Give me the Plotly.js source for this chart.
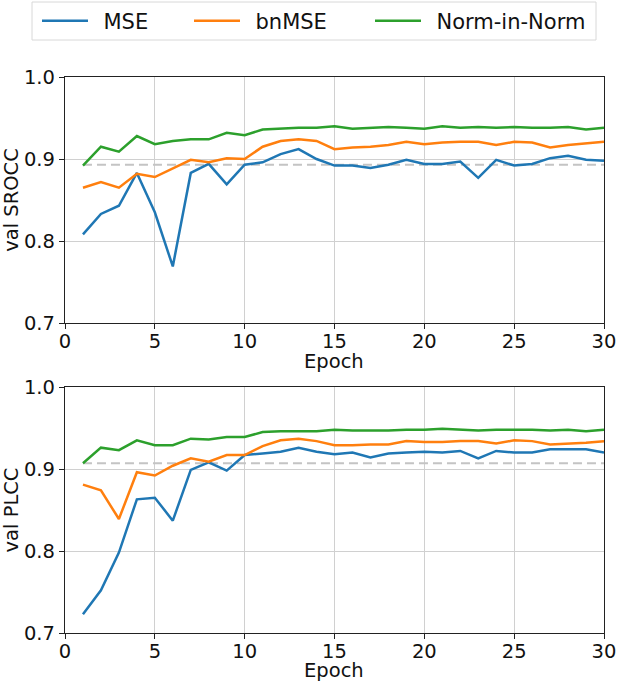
<!DOCTYPE html>
<html>
<head>
<meta charset="utf-8">
<script src="https://cdn.plot.ly/plotly-3.0.1.min.js"></script>
<style>
  html, body { margin: 0; padding: 0; background: #fff; }
  #chart { width: 623px; height: 687px; }
</style>
</head>
<body>
<div id="chart"></div>
<script>
const epochs = [1,2,3,4,5,6,7,8,9,10,11,12,13,14,15,16,17,18,19,20,21,22,23,24,25,26,27,28,29,30];
const seriesNames = ['MSE', 'bnMSE', 'Norm-in-Norm'];

// val SROCC per epoch
const srccMSE = [0.808,0.833,0.843,0.883,0.835,0.769,0.883,0.894,0.869,0.893,0.896,0.906,0.912,0.900,0.892,
                 0.892,0.889,0.893,0.899,0.894,0.894,0.897,0.877,0.899,0.892,0.894,0.901,0.904,0.899,0.898];
const srccBn  = [0.865,0.872,0.865,0.882,0.878,0.888,0.899,0.896,0.901,0.900,0.915,0.922,0.924,0.922,0.912,
                 0.914,0.915,0.917,0.921,0.918,0.920,0.921,0.921,0.917,0.921,0.920,0.914,0.917,0.919,0.921];
const srccNiN = [0.892,0.915,0.909,0.928,0.918,0.922,0.924,0.924,0.932,0.929,0.936,0.937,0.938,0.938,0.940,
                 0.937,0.938,0.939,0.938,0.937,0.940,0.938,0.939,0.938,0.939,0.938,0.938,0.939,0.936,0.938];

// val PLCC per epoch
const plccMSE = [0.723,0.752,0.798,0.863,0.865,0.837,0.899,0.908,0.898,0.917,0.919,0.921,0.926,0.921,0.918,
                 0.920,0.914,0.919,0.920,0.921,0.920,0.922,0.913,0.922,0.920,0.920,0.924,0.924,0.924,0.920];
const plccBn  = [0.881,0.874,0.839,0.896,0.892,0.904,0.913,0.909,0.917,0.917,0.928,0.935,0.937,0.934,0.929,
                 0.929,0.930,0.930,0.934,0.933,0.933,0.934,0.934,0.931,0.935,0.934,0.930,0.931,0.932,0.934];
const plccNiN = [0.907,0.926,0.923,0.935,0.929,0.929,0.937,0.936,0.939,0.939,0.945,0.946,0.946,0.946,0.948,
                 0.947,0.947,0.947,0.948,0.948,0.949,0.948,0.947,0.948,0.948,0.948,0.947,0.948,0.946,0.948];

// dashed reference lines
const baseX = [1, 30];
const srccBase = [0.893, 0.893];
const plccBase = [0.907, 0.907];

const colors = ['#1f77b4', '#ff7f0e', '#2ca02c'];
const FONT = 'DejaVu Sans, sans-serif';
const W = 623, H = 687;

const px = v => v / W;
const py = v => 1 - v / H;

function line(y, i, xa, ya, leg) {
  return {
    x: epochs, y: y, type: 'scatter', mode: 'lines',
    // en space keeps the matplotlib-like gap between sample line and label
    name: '\u2002' + seriesNames[i], xaxis: xa, yaxis: ya,
    line: { color: colors[i], width: 2.5 },
    showlegend: !!leg, legend: leg || 'legend',
  };
}
function dashed(y, xa, ya) {
  return {
    x: baseX, y: y, type: 'scatter', mode: 'lines', xaxis: xa, yaxis: ya,
    line: { color: '#c4c4c4', width: 2.2, dash: '9px,5px' },
    showlegend: false, hoverinfo: 'skip',
  };
}

const traces = [
  dashed(srccBase, 'x', 'y'),
  line(srccMSE, 0, 'x', 'y', 'legend'),
  line(srccBn, 1, 'x', 'y', 'legend2'),
  line(srccNiN, 2, 'x', 'y', 'legend3'),
  dashed(plccBase, 'x2', 'y2'),
  line(plccMSE, 0, 'x2', 'y2'),
  line(plccBn, 1, 'x2', 'y2'),
  line(plccNiN, 2, 'x2', 'y2'),
];

function xAxis(anchor) {
  return {
    anchor: anchor, domain: [px(65), px(604)], range: [0, 30],
    tickvals: [0, 5, 10, 15, 20, 25, 30],
    showgrid: true, gridcolor: '#d0d0d0', gridwidth: 1,
    zeroline: false, showline: true, linecolor: '#222', linewidth: 1.2, mirror: true,
    ticks: 'outside', ticklen: 5, tickcolor: '#222', ticklabelstandoff: -5,
    tickfont: { family: FONT, size: 19.5, color: '#111' },
  };
}
function yAxis(anchor, top, bottom, label) {
  return {
    anchor: anchor, domain: [py(bottom), py(top)], range: [0.7, 1.0],
    tickvals: [0.7, 0.8, 0.9, 1.0], tickformat: '.1f',
    showgrid: true, gridcolor: '#d0d0d0', gridwidth: 1,
    zeroline: false, showline: true, linecolor: '#222', linewidth: 1.2, mirror: true,
    ticks: 'outside', ticklen: 5, tickcolor: '#222',
    tickfont: { family: FONT, size: 19.5, color: '#111' },
    title: { text: label, font: { family: FONT, size: 19.5, color: '#111' }, standoff: 6 },
  };
}

function legendAt(x) {
  return {
    x: px(x), xanchor: 'left', y: py(21), yanchor: 'middle',
    orientation: 'h', bgcolor: 'rgba(0,0,0,0)', borderwidth: 0,
    itemwidth: 46, font: { family: FONT, size: 21, color: '#111' },
  };
}

function epochTitle(yc) {
  return {
    text: 'Epoch', xref: 'paper', yref: 'paper', x: px(334.5), y: py(yc),
    xanchor: 'center', yanchor: 'middle', showarrow: false, borderpad: 0,
    font: { family: FONT, size: 19.5, color: '#111' },
  };
}

const layout = {
  width: W, height: H, autosize: false,
  margin: { l: 0, r: 0, t: 0, b: 0 },
  paper_bgcolor: '#fff', plot_bgcolor: '#fff',
  font: { family: FONT },
  xaxis: xAxis('y'),
  yaxis: yAxis('x', 77, 323, 'val SROCC'),
  xaxis2: xAxis('y2'),
  yaxis2: yAxis('x2', 387, 633, 'val PLCC'),
  legend: legendAt(37),
  legend2: legendAt(189),
  legend3: legendAt(370),
  annotations: [epochTitle(361), epochTitle(670)],
  shapes: [{
    type: 'rect', xref: 'paper', yref: 'paper',
    x0: px(32), x1: px(596), y0: py(40), y1: py(2),
    line: { color: '#d8d8d8', width: 1 }, fillcolor: 'rgba(255,255,255,0.8)', layer: 'below',
  }],
};

Plotly.newPlot('chart', traces, layout, { displayModeBar: false, staticPlot: true });
</script>
</body>
</html>
